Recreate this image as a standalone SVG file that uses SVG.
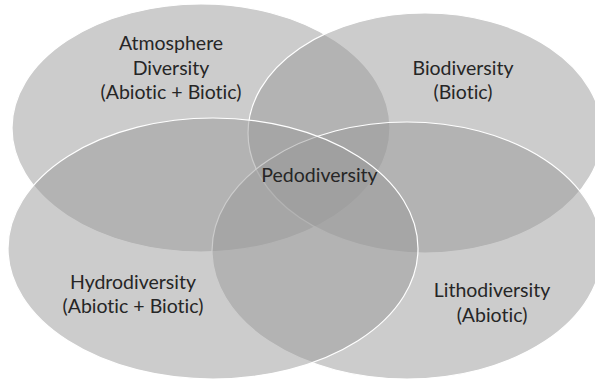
<svg xmlns="http://www.w3.org/2000/svg" width="595" height="380" viewBox="0 0 595 380">
<style>
.set{fill:#999999;fill-opacity:0.5;stroke:#ffffff;stroke-width:1.2}
.lbl{font-family:Lato,"Liberation Sans",sans-serif;font-size:19.5px;fill:#262626;text-anchor:middle;font-variant-ligatures:none}
</style>
<rect width="595" height="380" fill="#ffffff"/>
<g id="atmosphere">
<ellipse class="set" cx="201" cy="128" rx="189" ry="124"/>
</g>
<g id="biodiversity">
<ellipse class="set" cx="425" cy="133" rx="177" ry="120"/>
</g>
<g id="lithodiversity">
<ellipse class="set" cx="407" cy="250.5" rx="195" ry="128.5"/>
</g>
<g id="hydrodiversity">
<ellipse class="set" cx="213" cy="248.5" rx="205" ry="130.5"/>
</g>
<g id="labels">
<text class="lbl" x="171" y="50">Atmosphere</text>
<text class="lbl" x="171" y="75">Diversity</text>
<text class="lbl" x="171" y="99">(Abiotic + Biotic)</text>
<text class="lbl" x="463" y="75">Biodiversity</text>
<text class="lbl" x="463" y="99">(Biotic)</text>
<text class="lbl" x="133" y="289">Hydrodiversity</text>
<text class="lbl" x="133" y="313">(Abiotic + Biotic)</text>
<text class="lbl" x="492" y="297">Lithodiversity</text>
<text class="lbl" x="492" y="322">(Abiotic)</text>
<text class="lbl" x="319.5" y="182">Pedodiversity</text>
</g>
</svg>
